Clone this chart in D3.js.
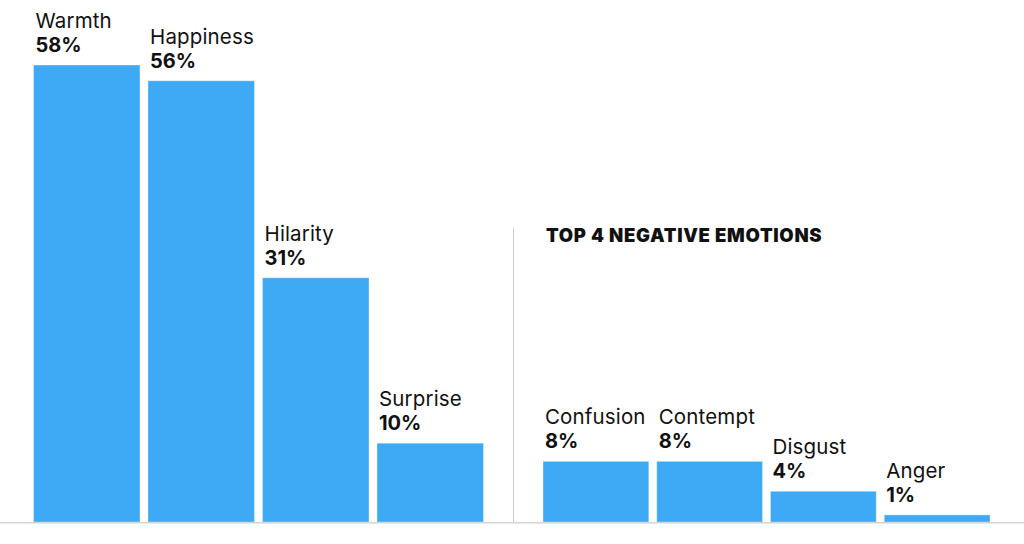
<!DOCTYPE html>
<html><head><meta charset="utf-8">
<script src="https://cdn.jsdelivr.net/npm/d3@7"></script>
<style>html,body{margin:0;padding:0;background:#fff;} svg{display:block;}</style>
</head><body>
<svg id="chart" width="1024" height="544"></svg>
<script>
const positiveCategories = ["Warmth", "Happiness", "Hilarity", "Surprise"];
const positiveValues = [58, 56, 31, 10];
const negativeCategories = ["Confusion", "Contempt", "Disgust", "Anger"];
const negativeValues = [7.7, 7.7, 3.9, 0.9];
const negativeTitle = "TOP 4 NEGATIVE EMOTIONS";

const svg = d3.select("#chart");
const font = "Inter, 'Open Sans', sans-serif";
const baseY = 522;
const y = d3.scaleLinear().domain([0, 58]).range([baseY, 65]);

const xPos = d3.scaleBand().domain(positiveCategories).range([33.5, 483.5]).paddingInner(0.07).paddingOuter(0);
const xNeg = d3.scaleBand().domain(negativeCategories).range([543, 990]).paddingInner(0.07).paddingOuter(0);

function drawGroup(cats, vals, x) {
  const data = cats.map((c, i) => ({c, v: vals[i]}));
  const g = svg.append("g");
  g.selectAll("rect").data(data).join("rect")
    .attr("x", d => x(d.c)).attr("width", x.bandwidth())
    .attr("y", d => y(d.v)).attr("height", d => baseY - y(d.v))
    .attr("fill", "#3ea9f5")
    .attr("stroke", "rgba(255,255,255,0.35)").attr("stroke-width", 1);
  g.selectAll("text.name").data(data).join("text").attr("class", "name")
    .attr("x", d => x(d.c) + 2).attr("y", d => y(d.v) - 37)
    .attr("font-family", font).attr("font-size", 20.5).attr("letter-spacing", 0.15).attr("fill", "#111")
    .text(d => d.c);
  g.selectAll("text.val").data(data).join("text").attr("class", "val")
    .attr("x", d => x(d.c) + 2).attr("y", d => y(d.v) - 13)
    .attr("font-family", font).attr("font-size", 20).attr("font-weight", 700).attr("fill", "#111")
    .text(d => Math.round(d.v) + "%");
}
drawGroup(positiveCategories, positiveValues, xPos);
drawGroup(negativeCategories, negativeValues, xNeg);

svg.append("line").attr("x1", 513.5).attr("x2", 513.5).attr("y1", 228).attr("y2", baseY)
  .attr("stroke", "#cccccc").attr("stroke-width", 1);
svg.append("line").attr("x1", 0).attr("x2", 1024).attr("y1", baseY + 0.75).attr("y2", baseY + 0.75)
  .attr("stroke", "#d4d4d4").attr("stroke-width", 1.5);

svg.append("text").attr("x", 546).attr("y", 242)
  .attr("font-family", font).attr("font-size", 18.5).attr("font-weight", 900).attr("letter-spacing", 0.7).attr("fill", "#111")
  .text(negativeTitle);
</script>
</body></html>
